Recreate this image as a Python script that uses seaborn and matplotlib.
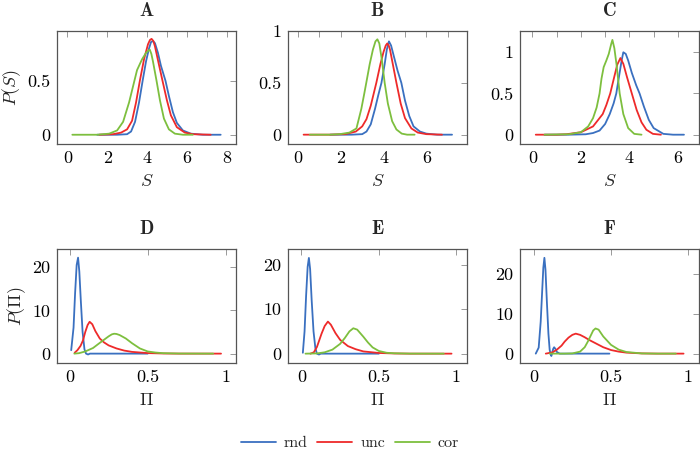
import matplotlib
matplotlib.use("Agg")
import matplotlib.pyplot as plt
from matplotlib.ticker import MultipleLocator, FormatStrFormatter
import seaborn as sns

# ── Data ─────────────────────────────────────────────────────────────────────
# Top row: P(S)
A_rnd_x = [1.5, 2.5, 3.0, 3.2, 3.4, 3.6, 3.78, 3.95, 4.1, 4.2, 4.3, 4.4, 4.55, 4.7, 4.93, 5.1, 5.3, 5.5, 5.8, 6.2, 6.8, 7.7]
A_rnd_y = [0, 0, 0.005, 0.03, 0.12, 0.3, 0.5, 0.68, 0.8, 0.86, 0.87, 0.85, 0.76, 0.64, 0.5, 0.36, 0.21, 0.11, 0.04, 0.01, 0, 0]
A_unc_x = [1.6, 2.3, 2.7, 3.0, 3.25, 3.45, 3.64, 3.85, 4.05, 4.15, 4.23, 4.32, 4.4, 4.6, 4.78, 5.0, 5.2, 5.5, 5.9, 6.3, 7.2]
A_unc_y = [0, 0.005, 0.02, 0.05, 0.13, 0.3, 0.5, 0.7, 0.84, 0.88, 0.89, 0.87, 0.82, 0.65, 0.5, 0.32, 0.18, 0.07, 0.02, 0.005, 0]
A_cor_x = [0.25, 1.5, 2.1, 2.5, 2.8, 3.1, 3.3, 3.5, 3.75, 3.95, 4.06, 4.14, 4.22, 4.3, 4.48, 4.65, 4.85, 5.1, 5.4, 5.8, 6.3]
A_cor_y = [0, 0, 0.01, 0.04, 0.12, 0.3, 0.45, 0.6, 0.7, 0.76, 0.78, 0.79, 0.75, 0.68, 0.5, 0.32, 0.15, 0.05, 0.01, 0, 0]

B_rnd_x = [1.5, 2.5, 3.0, 3.2, 3.4, 3.6, 3.75, 3.9, 4.05, 4.15, 4.25, 4.35, 4.5, 4.65, 4.83, 5.0, 5.2, 5.4, 5.7, 6.0, 6.5, 7.2]
B_rnd_y = [0, 0, 0.005, 0.03, 0.1, 0.25, 0.38, 0.5, 0.68, 0.82, 0.9, 0.86, 0.74, 0.62, 0.5, 0.33, 0.18, 0.08, 0.03, 0.01, 0, 0]
B_unc_x = [0.26, 1.5, 2.2, 2.7, 3.0, 3.2, 3.4, 3.66, 3.85, 4.0, 4.1, 4.17, 4.24, 4.3, 4.45, 4.6, 4.8, 5.0, 5.3, 5.6, 6.0, 6.73]
B_unc_y = [0, 0, 0.005, 0.03, 0.08, 0.15, 0.28, 0.5, 0.68, 0.8, 0.86, 0.88, 0.86, 0.82, 0.66, 0.5, 0.3, 0.16, 0.06, 0.02, 0.005, 0]
B_cor_x = [0.55, 1.5, 1.95, 2.4, 2.73, 2.96, 3.1, 3.19, 3.35, 3.5, 3.62, 3.71, 3.8, 3.92, 4.05, 4.2, 4.4, 4.6, 4.85, 5.1, 5.45]
B_cor_y = [0, 0, 0.005, 0.02, 0.06, 0.25, 0.4, 0.5, 0.68, 0.82, 0.9, 0.92, 0.88, 0.72, 0.5, 0.3, 0.13, 0.05, 0.01, 0, 0]

C_rnd_x = [0.5, 1.5, 2.2, 2.5, 2.77, 3.0, 3.19, 3.35, 3.46, 3.58, 3.68, 3.75, 3.85, 3.95, 4.1, 4.28, 4.42, 4.6, 4.8, 5.0, 5.4, 5.8, 6.25]
C_rnd_y = [0, 0, 0.005, 0.02, 0.05, 0.13, 0.25, 0.38, 0.5, 0.72, 0.9, 1.0, 0.98, 0.9, 0.75, 0.6, 0.5, 0.34, 0.18, 0.08, 0.01, 0, 0]
C_unc_x = [0.14, 1.0, 1.4, 2.0, 2.5, 2.9, 3.05, 3.21, 3.35, 3.5, 3.63, 3.75, 3.9, 4.1, 4.3, 4.5, 4.7, 4.97, 5.3]
C_unc_y = [0, 0, 0.005, 0.03, 0.1, 0.25, 0.36, 0.5, 0.67, 0.85, 0.93, 0.86, 0.7, 0.5, 0.3, 0.15, 0.06, 0.01, 0]
C_cor_x = [0.5, 1.5, 2.0, 2.3, 2.5, 2.65, 2.77, 2.85, 2.94, 3.05, 3.15, 3.25, 3.3, 3.38, 3.47, 3.6, 3.75, 3.95, 4.2, 4.5]
C_cor_y = [0, 0.005, 0.03, 0.1, 0.2, 0.33, 0.5, 0.68, 0.82, 0.9, 0.98, 1.1, 1.15, 1.05, 0.85, 0.5, 0.25, 0.08, 0.01, 0]

# Bottom row: P(Pi)
D_rnd_x = [0.01, 0.025, 0.035, 0.045, 0.054, 0.062, 0.072, 0.083, 0.095, 0.105, 0.118, 0.13, 0.2, 0.5]
D_rnd_y = [0.8, 6, 14, 20.5, 22.2, 19, 12, 5, 1, 0, -0.2, 0, 0, 0]
D_unc_x = [0.032, 0.05, 0.07, 0.086, 0.1, 0.115, 0.128, 0.145, 0.165, 0.193, 0.22, 0.25, 0.3, 0.35, 0.4, 0.5, 0.6, 0.7, 0.97]
D_unc_y = [0.2, 0.8, 1.8, 3.1, 5.0, 6.6, 7.36, 6.8, 5.2, 3.5, 2.6, 1.9, 1.2, 0.7, 0.4, 0.12, 0.03, 0, 0]
D_cor_x = [0.03, 0.06, 0.1, 0.15, 0.19, 0.22, 0.25, 0.27, 0.285, 0.3, 0.32, 0.36, 0.4, 0.45, 0.5, 0.55, 0.6, 0.7, 0.92]
D_cor_y = [0, 0.1, 0.5, 1.3, 2.4, 3.2, 4.0, 4.45, 4.6, 4.55, 4.3, 3.5, 2.4, 1.2, 0.5, 0.25, 0.1, 0.02, 0]

E_rnd_x = [0.009, 0.02, 0.03, 0.04, 0.048, 0.056, 0.066, 0.078, 0.09, 0.1, 0.113, 0.125, 0.2, 0.5]
E_rnd_y = [0.2, 5, 13, 19.5, 21.5, 19, 12, 5, 1.2, 0, -0.2, 0, 0, 0]
E_unc_x = [0.058, 0.08, 0.1, 0.115, 0.13, 0.15, 0.171, 0.19, 0.22, 0.25, 0.3, 0.35, 0.4, 0.5, 0.6, 0.7, 0.97]
E_unc_y = [0, 0.3, 1.5, 3.0, 4.5, 6.2, 7.2, 6.5, 4.6, 3.1, 1.7, 1.0, 0.5, 0.15, 0.04, 0, 0]
E_cor_x = [0.026, 0.1, 0.15, 0.2, 0.25, 0.28, 0.31, 0.335, 0.36, 0.4, 0.43, 0.46, 0.5, 0.55, 0.6, 0.7, 0.92]
E_cor_y = [0, 0.05, 0.3, 0.9, 2.2, 3.5, 5.0, 5.7, 5.4, 3.8, 2.5, 1.4, 0.6, 0.2, 0.08, 0.01, 0]

F_rnd_x = [0.013, 0.032, 0.045, 0.055, 0.062, 0.069, 0.076, 0.085, 0.095, 0.103, 0.108, 0.114, 0.12, 0.126, 0.132, 0.14, 0.15, 0.168, 0.25, 0.49]
F_rnd_y = [0, 1.5, 8, 16, 21.5, 24, 21, 13, 5, 1, 0, -0.6, 0.3, 1.2, 1.6, 1.2, 0.4, 0, 0, 0]
F_unc_x = [0.078, 0.12, 0.15, 0.18, 0.2, 0.225, 0.25, 0.272, 0.3, 0.33, 0.36, 0.4, 0.45, 0.5, 0.55, 0.6, 0.7, 0.8, 0.97]
F_unc_y = [0, 0.3, 1.0, 2.0, 3.0, 4.0, 4.7, 5.0, 4.7, 4.1, 3.4, 2.6, 1.6, 0.9, 0.5, 0.25, 0.05, 0, 0]
F_cor_x = [0.104, 0.2, 0.25, 0.3, 0.33, 0.35, 0.37, 0.385, 0.4, 0.42, 0.45, 0.5, 0.55, 0.6, 0.7, 0.8, 0.92]
F_cor_y = [0, 0, 0.05, 0.5, 1.6, 3.0, 4.6, 5.8, 6.3, 6.0, 4.3, 2.2, 1.0, 0.4, 0.05, 0, 0]

SERIES = ["rnd", "unc", "cor"]
COLORS = {"rnd": "#3a70c0", "unc": "#ee2a2a", "cor": "#7dbf3e"}

# ── Style ────────────────────────────────────────────────────────────────────
sns.set_theme(style="white")
plt.rcParams["font.family"] = ["cmr10", "DejaVu Serif"]
plt.rcParams["mathtext.fontset"] = "cm"
plt.rcParams["axes.formatter.use_mathtext"] = True
plt.rcParams["font.size"] = 12

FRAME = "#555555"
TICK = "#999999"

fig = plt.figure(figsize=(7, 4.5), dpi=100)

lefts = [57 / 700, 288 / 700, 520 / 700]
width = 179 / 700
top_row = (1 - 144 / 450, 113 / 450)
bot_row = (1 - 363 / 450, 114 / 450)

panels = [
    ("A", top_row, 0, (A_rnd_x, A_rnd_y), (A_unc_x, A_unc_y), (A_cor_x, A_cor_y),
     (-0.52, 8.47), (-0.086, 0.963), 2, 1, 0.5, r"$S$", r"$P(S)$"),
    ("B", top_row, 1, (B_rnd_x, B_rnd_y), (B_unc_x, B_unc_y), (B_cor_x, B_cor_y),
     (-0.47, 7.9), (-0.09, 1.0), 2, 1, 0.5, r"$S$", None),
    ("C", top_row, 2, (C_rnd_x, C_rnd_y), (C_unc_x, C_unc_y), (C_cor_x, C_cor_y),
     (-0.51, 6.87), (-0.113, 1.258), 2, 1, 0.5, r"$S$", None),
    ("D", bot_row, 0, (D_rnd_x, D_rnd_y), (D_unc_x, D_unc_y), (D_cor_x, D_cor_y),
     (-0.081, 1.066), (-2.17, 24.2), 0.5, None, 10, r"$\Pi$", r"$P(\Pi)$"),
    ("E", bot_row, 1, (E_rnd_x, E_rnd_y), (E_unc_x, E_unc_y), (E_cor_x, E_cor_y),
     (-0.087, 1.07), (-2.1, 23.5), 0.5, None, 10, r"$\Pi$", None),
    ("F", bot_row, 2, (F_rnd_x, F_rnd_y), (F_unc_x, F_unc_y), (F_cor_x, F_cor_y),
     (-0.089, 1.07), (-2.35, 26.2), 0.5, None, 10, r"$\Pi$", None),
]

for (title, row, col, rnd, unc, cor, xlim, ylim, xmaj, xmin, ymaj, xlabel, ylabel) in panels:
    ax = fig.add_axes([lefts[col], row[0], width, row[1]])
    for name, (xs, ys) in zip(SERIES, [rnd, unc, cor]):
        sns.lineplot(x=xs, y=ys, ax=ax, color=COLORS[name], linewidth=1.3,
                     sort=False, estimator=None, label=name, legend=False)
    ax.set_xlim(*xlim)
    ax.set_ylim(*ylim)
    ax.xaxis.set_major_locator(MultipleLocator(xmaj))
    if xmin:
        ax.xaxis.set_minor_locator(MultipleLocator(xmin))
    ax.yaxis.set_major_locator(MultipleLocator(ymaj))
    ax.xaxis.set_major_formatter(FormatStrFormatter("%g"))
    ax.yaxis.set_major_formatter(FormatStrFormatter("%g"))
    ax.tick_params(which="both", direction="in", top=True, right=True,
                   color=TICK, length=4, width=0.7, labelsize=13,
                   labelcolor="black", pad=5)
    for sp in ax.spines.values():
        sp.set_color(FRAME)
        sp.set_linewidth(0.9)
    ax.set_title(r"$\mathbf{" + title + "}$", fontsize=13.5, pad=11)
    ax.set_xlabel(xlabel, fontsize=13, labelpad=5)
    if ylabel:
        ax.set_ylabel(ylabel, fontsize=13, labelpad=3)
    else:
        ax.set_ylabel("")

handles, labels = fig.axes[0].get_legend_handles_labels()
fig.legend(handles, labels, loc="center", bbox_to_anchor=(0.5, 1 - 443 / 450),
           ncol=3, frameon=False, fontsize=11.5, handlelength=2.2,
           columnspacing=0.6, handletextpad=0.5)

fig.savefig("out.png", dpi=100)
